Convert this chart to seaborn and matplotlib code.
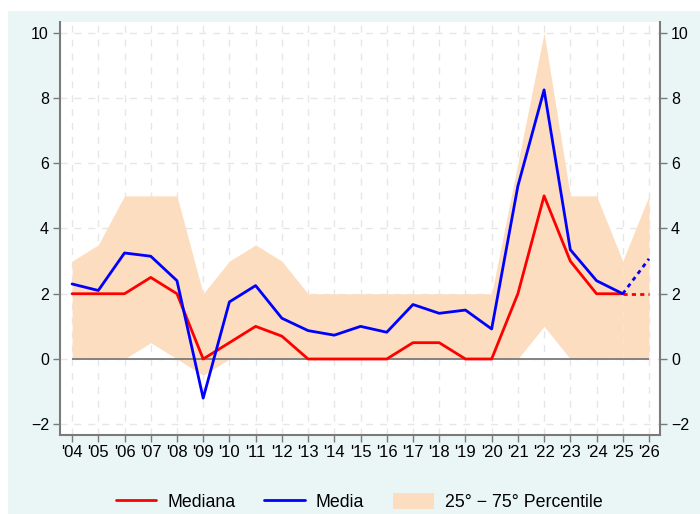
import pandas as pd
import matplotlib.pyplot as plt
import seaborn as sns
from matplotlib.patches import Rectangle, Patch
from matplotlib.lines import Line2D

# data
years = list(range(2004, 2027))
mediana = [2, 2, 2, 2.5, 2, 0, 0.5, 1, 0.7, 0, 0, 0, 0, 0.5, 0.5, 0, 0, 2, 5, 3, 2, 2, 2]
media = [2.3, 2.1, 3.25, 3.15, 2.4, -1.2, 1.75, 2.25, 1.25, 0.87, 0.73, 1.0, 0.82,
         1.67, 1.4, 1.5, 0.92, 5.3, 8.25, 3.35, 2.4, 2.0, 3.07]
p25 = [0, 0, 0, 0.5, 0, -0.5, 0, 0, 0, 0, 0, 0, 0, 0, 0, 0, 0, 0, 1, 0, 0, 0, 0]
p75 = [3, 3.5, 5, 5, 5, 2, 3, 3.5, 3, 2, 2, 2, 2, 2, 2, 2, 2, 6, 10, 5, 5, 3, 5]
last_obs = 2025
tick_labels = ["'" + str(y)[2:] for y in years]

df = pd.DataFrame({'anno': years, 'Mediana': mediana, 'Media': media,
                   'p25': p25, 'p75': p75})
obs = df[df.anno <= last_obs]
prev = df[df.anno >= last_obs]

sns.set_style("white")
plt.rcParams['font.family'] = ['Liberation Sans', 'DejaVu Sans']
plt.rcParams['text.color'] = 'black'
plt.rcParams['xtick.color'] = 'black'
plt.rcParams['ytick.color'] = 'black'

RED = '#FF0000'
BLUE = '#0000FF'
BAND = '#FDDDC0'
GRAY = '#7A7A7A'

fig = plt.figure(figsize=(7, 5.14), dpi=100)
fig.patch.set_facecolor('white')
fig.patches.append(Rectangle((8 / 700, 0), 1, 1 - 11 / 514, transform=fig.transFigure,
                             facecolor='#EAF6F6', edgecolor='none', zorder=-10))
ax = fig.add_axes([60 / 700, 1 - 435 / 514, 600 / 700, 413 / 514])
ax.set_facecolor('white')

# grid
for y in years:
    ax.axvline(y, color='#E6E6E6', lw=1, ls=(0, (5, 5)), zorder=0)
for v in range(-2, 11, 2):
    ax.axhline(v, color='#E6E6E6', lw=1, ls=(0, (5, 5)), zorder=0)

# band
ax.fill_between(obs.anno, obs.p25, obs.p75, color=BAND, lw=0, zorder=1)
ax.fill_between(prev.anno, prev.p25, prev.p75, color=BAND, lw=0, zorder=1)
ax.hlines(0, years[0], years[-1], color=GRAY, lw=1.3, zorder=2)

# lines
sns.lineplot(data=obs, x='anno', y='Mediana', color=RED, lw=2, ax=ax, zorder=3)
sns.lineplot(data=obs, x='anno', y='Media', color=BLUE, lw=2, ax=ax, zorder=3)
sns.lineplot(data=prev, x='anno', y='Mediana', color=RED, lw=2, ls=(0, (1.5, 1.5)), ax=ax, zorder=3)
sns.lineplot(data=prev, x='anno', y='Media', color=BLUE, lw=2, ls=(0, (1.5, 1.5)), ax=ax, zorder=3)

ax.set_xlim(years[0] - 0.46, years[-1] + 0.42)
ax.set_ylim(-2.33, 10.33)
ax.set_xticks(years)
ax.set_xticklabels(tick_labels)
ax.set_yticks(range(-2, 11, 2))
ax.set_yticklabels(['\u22122', '0', '2', '4', '6', '8', '10'])
ax.set_xlabel('')
ax.set_ylabel('')

for s in ['left', 'right', 'bottom']:
    ax.spines[s].set_visible(True)
    ax.spines[s].set_color(GRAY)
    ax.spines[s].set_linewidth(1.5)
ax.spines['top'].set_visible(False)
ax.tick_params(axis='both', labelsize=11.5, color=GRAY, labelcolor='black',
               length=5, width=1, direction='out')
ax.tick_params(axis='y', left=True, right=True, labelleft=True, labelright=True, pad=3)
ax.tick_params(axis='x', bottom=True, pad=2)
for lab in ax.get_xticklabels():
    lab.set_fontsize(12)

handles = [Line2D([], [], color=RED, lw=2),
           Line2D([], [], color=BLUE, lw=2),
           Patch(facecolor=BAND, edgecolor='none')]
fig.legend(handles, ['Mediana', 'Media', '25\u00b0 \u2212 75\u00b0 Percentile'],
           loc='center', bbox_to_anchor=(359 / 700, 12 / 514), ncol=3, frameon=False,
           fontsize=12.8, handlelength=2.3, handleheight=1.0, columnspacing=1.6,
           handletextpad=0.62, labelcolor='black', borderpad=0)

fig.savefig('out.png', dpi=100, facecolor=fig.get_facecolor())
